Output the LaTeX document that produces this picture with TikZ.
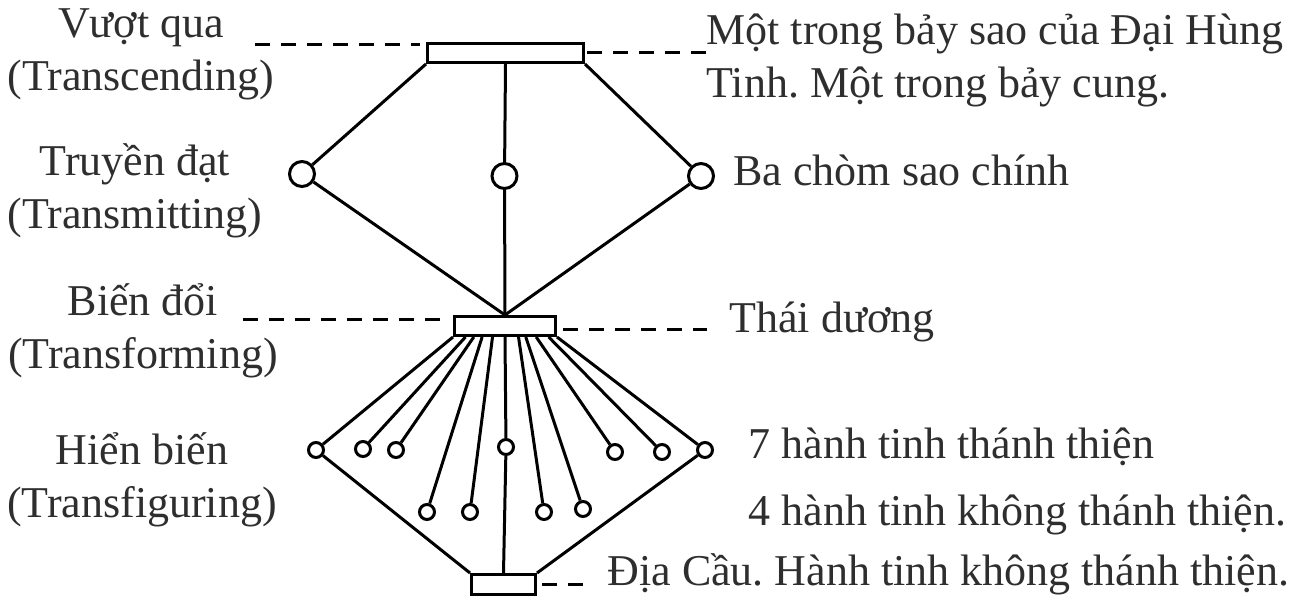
\documentclass[tikz,border=0pt]{standalone}
\usepackage{fontspec}
\setmainfont{Liberation Serif}
\usetikzlibrary{calc}
\frenchspacing

\begin{document}
\begin{tikzpicture}[x=1pt,y=-1pt,line width=3pt,
        bar/.style={shape=rectangle,draw=black,inner sep=0pt},
        cstar/.style={shape=circle,draw=black,inner sep=0pt,minimum size=25pt},
        planet/.style={shape=circle,draw=black,inner sep=0pt,minimum size=15pt},
        caption/.style={text=black!82,inner sep=0pt,font=\fontsize{44}{52.5}\selectfont},
        leader/.style={dash pattern=on 15pt off 11pt}]
        \useasboundingbox (0,0) rectangle (1302,611);

        % the three bars
        \node [bar,minimum width=156pt,minimum height=19pt] (top) at (505.5,53) {};
        \node [bar,minimum width=101pt,minimum height=19pt] (sun) at (505,326) {};
        \node [bar,minimum width=64pt,minimum height=20pt] (earth) at (503.5,584.5) {};

        % constellations
        \node [cstar] (s1) at (302,174) {};
        \node [cstar] (s2) at (504.5,176) {};
        \node [cstar] (s3) at (701,176) {};

        % sacred planets
        \node [planet] (p1) at (316,450) {};
        \node [planet] (p2) at (363,449) {};
        \node [planet] (p3) at (396,450) {};
        \node [planet] (p4) at (506,447) {};
        \node [planet] (p5) at (615,452) {};
        \node [planet] (p6) at (662,452) {};
        \node [planet] (p7) at (705,450) {};
        % non-sacred planets
        \node [planet] (q1) at (427,512) {};
        \node [planet] (q2) at (470,512) {};
        \node [planet] (q3) at (544,512) {};
        \node [planet] (q4) at (583,509) {};

        \draw (top.south west) -- (s1);
        \draw (top.south) -- (s2);
        \draw (top.south east) -- (s3);
        \draw (s1) -- (sun.north);
        \draw (s2) -- (sun.north);
        \draw (s3) -- (sun.north);

        \draw (sun.south west) -- (p1);
        \draw ($(sun.south west)!.12!(sun.south east)$) -- (p2);
        \draw ($(sun.south west)!.20!(sun.south east)$) -- (p3);
        \draw ($(sun.south west)!.28!(sun.south east)$) -- (q1);
        \draw ($(sun.south west)!.38!(sun.south east)$) -- (q2);
        \draw (sun.south) -- (p4);
        \draw ($(sun.south west)!.63!(sun.south east)$) -- (q3);
        \draw ($(sun.south west)!.70!(sun.south east)$) -- (q4);
        \draw ($(sun.south west)!.80!(sun.south east)$) -- (p5);
        \draw ($(sun.south west)!.92!(sun.south east)$) -- (p6);
        \draw (sun.south east) -- (p7);
        \draw (p4) -- (earth.north);
        \draw (p1) -- (earth.north west);
        \draw (p7) -- (earth.north east);

        % dashed leaders
        \coordinate (vqend) at (255,44);
        \coordinate (hungend) at (713,52);
        \coordinate (bdend) at (243,319);
        \coordinate (tdend) at (707,329);
        \coordinate (dcend) at (584,584);
        \draw [leader,shorten >=6pt] (vqend) -- (vqend -| top.west);
        \draw [leader,shorten <=2pt] (top.east |- hungend) -- (hungend);
        \draw [leader,shorten >=6pt] (bdend) -- (bdend -| sun.west);
        \draw [leader,shorten <=6pt] (sun.east |- tdend) -- (tdend);
        \draw [leader,shorten <=5pt] (earth.east |- dcend) -- (dcend);

        % left captions (base = last line)
        \node [caption,align=center,anchor=base] (vq) at (141,90) {Vượt qua\\(Transcending)};
        \node [caption,align=center,anchor=base] (tdat) at (135,228) {Truyền đạt\\(Transmitting)};
        \node [caption,align=center,anchor=base] (bdoi) at (143,368) {Biến đổi\\(Transforming)};
        \node [caption,align=center,anchor=base] (hbien) at (142,517) {Hiển biến\\(Transfiguring)};

        % right captions
        \node [caption,align=left,anchor=base west] (ursa) at (705,97) {Một trong bảy sao của Đại Hùng\\Tinh. Một trong bảy cung.};
        \node [caption,anchor=base west] (three) at (732,185) {Ba chòm sao chính};
        \node [caption,anchor=base west] (thai) at (728,332) {Thái dương};
        \node [caption,anchor=base west] (seven) at (747,458) {7 hành tinh thánh thiện};
        \node [caption,anchor=base west] (four) at (747,525) {4 hành tinh không thánh thiện.};
        \node [caption,anchor=base west] (dia) at (606,585) {Địa Cầu. Hành tinh không thánh thiện.};
    \end{tikzpicture}
\end{document}
